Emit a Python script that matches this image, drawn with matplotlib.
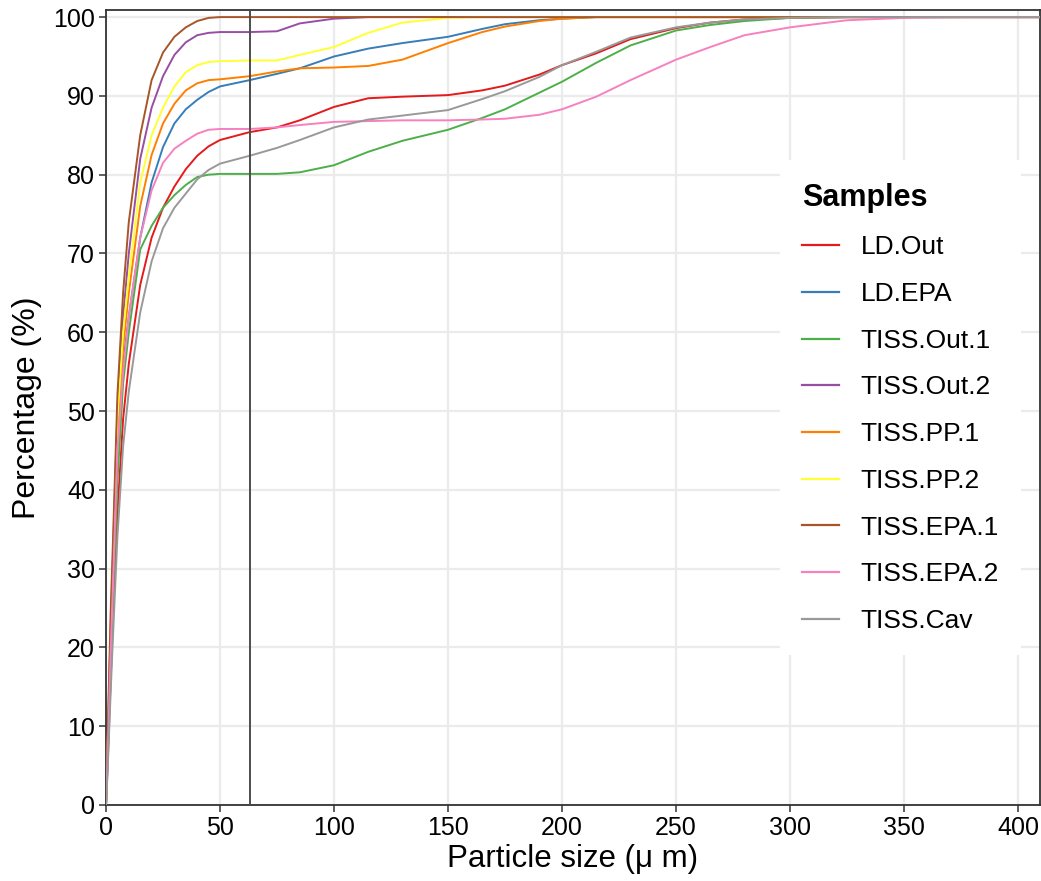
import matplotlib
matplotlib.use("Agg")
import matplotlib.pyplot as plt

plt.rcParams['font.family'] = ['Liberation Sans', 'DejaVu Sans']

# particle size (um)
size_um = [0, 0.5, 1, 2, 3, 5, 7.5, 10, 15, 20, 25, 30, 35, 40, 45, 50, 63, 75, 85,
           100, 115, 130, 150, 165, 175, 190, 200, 215, 230, 250, 265, 280, 300,
           325, 350, 375, 410]

samples = ['LD.Out', 'LD.EPA', 'TISS.Out.1', 'TISS.Out.2', 'TISS.PP.1',
           'TISS.PP.2', 'TISS.EPA.1', 'TISS.EPA.2', 'TISS.Cav']

ld_out = [0, 3.5, 7.5, 15.5, 23, 37, 49, 56, 66, 72, 75.8, 78.5, 80.7, 82.4, 83.6, 84.4, 85.4, 86.0, 86.9,
          88.6, 89.7, 89.9, 90.1, 90.7, 91.3, 92.7, 93.9, 95.4, 97.2, 98.6, 99.3, 99.7, 99.9,
          100, 100, 100, 100]
ld_epa = [0, 4.5, 9.5, 19.5, 28, 45, 56, 62, 72, 79, 83.5, 86.5, 88.3, 89.5, 90.5, 91.2, 92.0, 92.8, 93.5,
          95.0, 96.0, 96.7, 97.5, 98.5, 99.1, 99.6, 99.8, 100, 100, 100, 100, 100, 100,
          100, 100, 100, 100]
tiss_out_1 = [0, 4, 8.5, 17.5, 26, 41, 53.5, 60, 70.5, 73.5, 75.8, 77.4, 78.7, 79.7, 80.0, 80.1, 80.1, 80.1, 80.3,
              81.2, 82.9, 84.3, 85.7, 87.2, 88.3, 90.4, 91.8, 94.2, 96.4, 98.3, 99.0, 99.5, 99.9,
              100, 100, 100, 100]
tiss_out_2 = [0, 5.5, 11, 22, 31, 50, 62, 70, 82, 88.5, 92.5, 95.2, 96.8, 97.7, 98.0, 98.1, 98.1, 98.2, 99.2,
              99.8, 100, 100, 100, 100, 100, 100, 100, 100, 100, 100, 100, 100, 100,
              100, 100, 100, 100]
tiss_pp_1 = [0, 5, 10, 20.5, 29.5, 47, 58, 65, 76, 82.5, 86.5, 89, 90.7, 91.6, 92.0, 92.1, 92.5, 93.1, 93.5,
             93.6, 93.8, 94.6, 96.7, 98.1, 98.8, 99.5, 99.8, 100, 100, 100, 100, 100, 100,
             100, 100, 100, 100]
tiss_pp_2 = [0, 5, 10.5, 21, 30, 49, 60, 67, 79, 85, 88.5, 91.2, 93, 93.9, 94.3, 94.4, 94.5, 94.5, 95.2,
             96.2, 98.0, 99.3, 99.9, 100, 100, 100, 100, 100, 100, 100, 100, 100, 100,
             100, 100, 100, 100]
tiss_epa_1 = [0, 6, 12, 24, 33, 52, 65, 74, 85, 92, 95.5, 97.5, 98.7, 99.5, 99.9, 100, 100, 100, 100,
              100, 100, 100, 100, 100, 100, 100, 100, 100, 100, 100, 100, 100, 100,
              100, 100, 100, 100]
tiss_epa_2 = [0, 4.5, 9, 19, 27.5, 45, 55, 62, 72, 78, 81.5, 83.3, 84.3, 85.2, 85.7, 85.8, 85.8, 86.0, 86.3,
              86.7, 86.8, 86.9, 86.9, 87.0, 87.1, 87.6, 88.3, 89.9, 92.0, 94.6, 96.2, 97.7, 98.7,
              99.6, 99.9, 100, 100]
tiss_cav = [0, 3, 6.5, 14, 21, 34, 45.5, 52.5, 62.5, 69, 73.2, 75.8, 77.6, 79.4, 80.6, 81.4, 82.4, 83.4, 84.4,
            86.0, 87.0, 87.5, 88.2, 89.6, 90.6, 92.4, 93.9, 95.6, 97.4, 98.7, 99.3, 99.7, 99.9,
            100, 100, 100, 100]

series = [ld_out, ld_epa, tiss_out_1, tiss_out_2, tiss_pp_1,
          tiss_pp_2, tiss_epa_1, tiss_epa_2, tiss_cav]

# RColorBrewer Set1
colors = ['#E41A1C', '#377EB8', '#4DAF4A', '#984EA3', '#FF7F00',
          '#FFFF33', '#A65628', '#F781BF', '#999999']

cutoff = 63

fig = plt.figure(figsize=(10.41, 8.81), dpi=100)
ax = fig.add_axes([106 / 1041, 1 - 805 / 881, 934 / 1041, 795 / 881])

for name, vals, col in zip(samples, series, colors):
    ax.plot(size_um, vals, color=col, lw=1.4, label=name, zorder=3)

ax.axvline(cutoff, color='#4D4D4D', lw=1.4, zorder=4)

ax.set_xlim(0, 409.6)
ax.set_ylim(0, 100.9)
ax.set_xticks(range(0, 401, 50))
ax.set_yticks(range(0, 101, 10))
ax.grid(True, color='#EBEBEB', lw=1.6, zorder=0)
ax.set_axisbelow(True)

for sp in ax.spines.values():
    sp.set_color('#333333')
    sp.set_linewidth(1.3)
ax.tick_params(axis='both', colors='#333333', labelcolor='black', labelsize=18,
               length=5, width=1.1, pad=3)

ax.set_xlabel('Particle size (\u03bc m)', fontsize=22.5, labelpad=3)
ax.set_ylabel('Percentage (%)', fontsize=23, labelpad=8)

leg = ax.legend(loc='upper left', bbox_to_anchor=(0.7216, 0.811), borderaxespad=0,
                title='Samples', fontsize=19, frameon=True, fancybox=False,
                facecolor='white', edgecolor='none', framealpha=1,
                handlelength=1.4, handletextpad=0.8, labelspacing=0.86,
                borderpad=0.85, alignment='left',
                title_fontproperties={'weight': 'bold', 'size': 22})
for ln in leg.get_lines():
    ln.set_linewidth(1.6)
leg.set_zorder(5)

fig.savefig('out.png', dpi=100)
